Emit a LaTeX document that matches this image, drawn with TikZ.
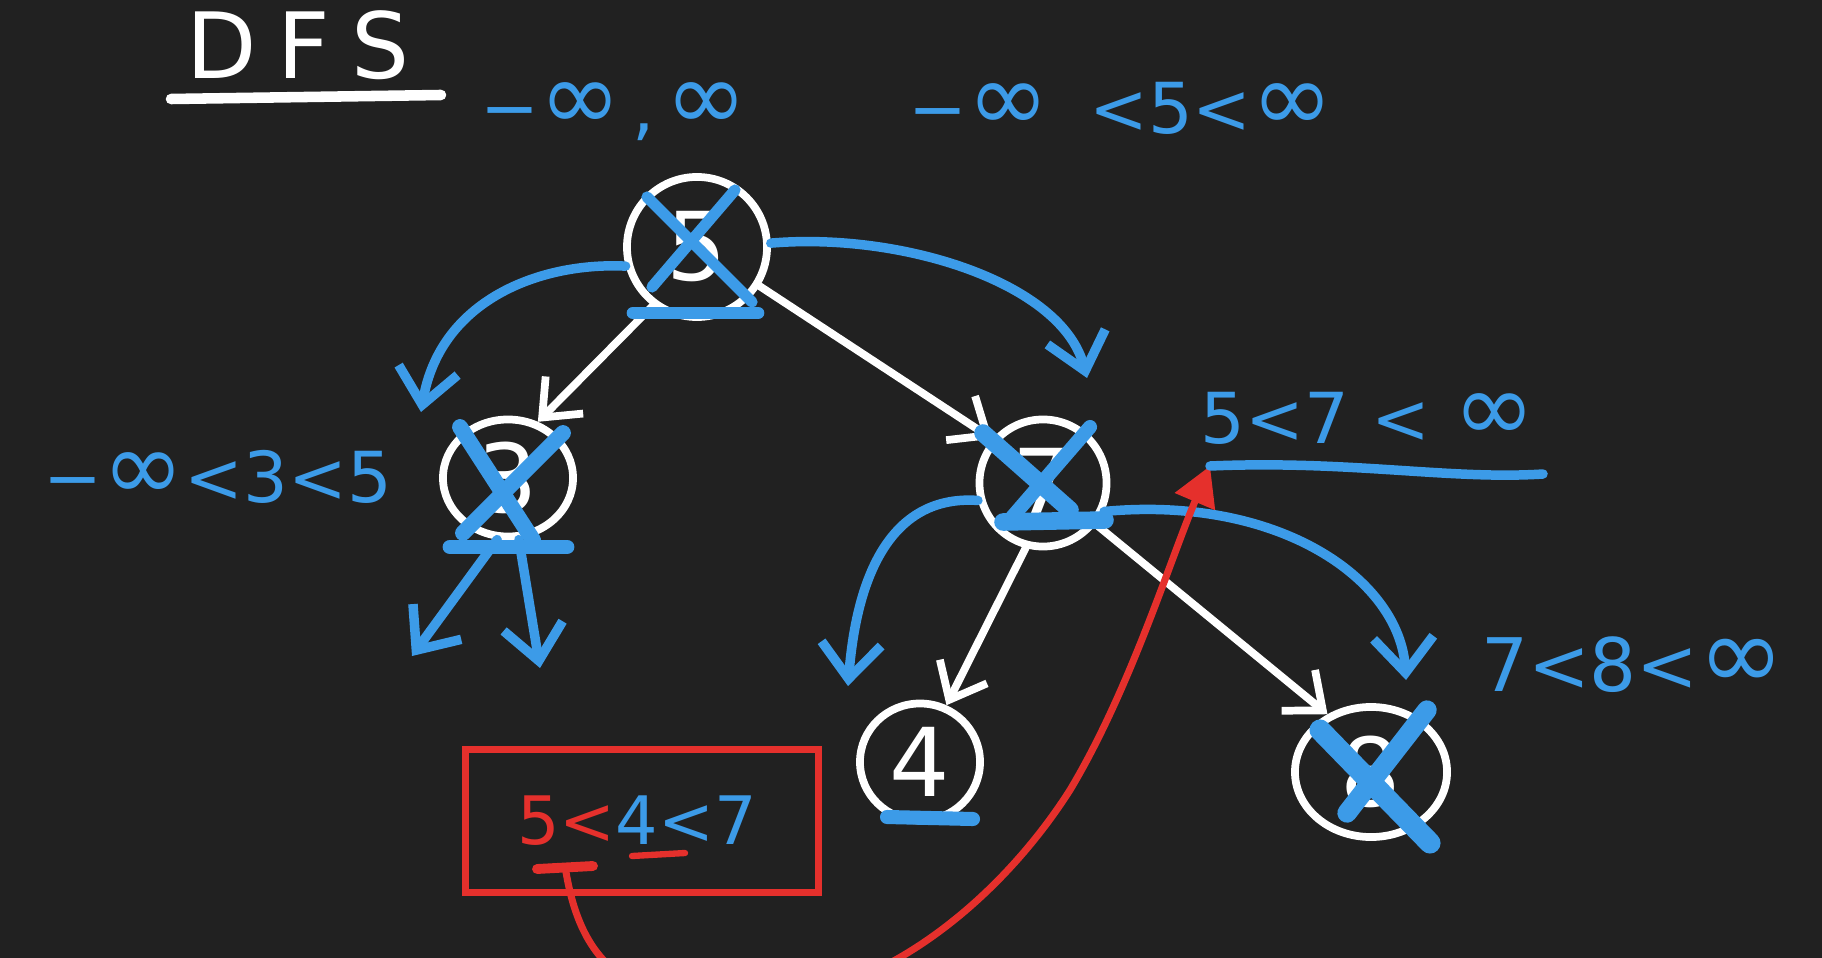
\documentclass[tikz,border=0pt]{standalone}
\usepackage{fontspec}
\usepackage{graphicx}
\setmainfont{DejaVu Sans}
\usetikzlibrary{arrows.meta,shapes.geometric}
\definecolor{bgc}{HTML}{212121}
\definecolor{bl}{HTML}{3C9BE8}
\definecolor{rd}{HTML}{E5302C}
\newcommand\bigInf{\raisebox{0.05ex}{\scalebox{1.4}{∞}}}
\begin{document}
\begin{tikzpicture}[x=0.01cm,y=-0.01cm,
  wl/.style={white, line width=2.2pt, line cap=round, line join=round},
  wa/.style={wl, -{Straight Barb[length=9pt,width=15pt]}},
  bline/.style={bl, line width=2.7pt, line cap=round, line join=round},
  ba/.style={bline, -{Straight Barb[length=10pt,width=17pt]}},
  xs/.style={bl, line width=3.2pt, line cap=round},
  nd/.style={ellipse, draw=white, line width=2.2pt, text=white, inner sep=0pt,
     font=\fontsize{27}{30}\selectfont},
  lbl/.style={text=bl, inner sep=0pt, font=\fontsize{20}{24}\selectfont},
  ra/.style={rd, line width=2pt, line cap=round, -{Triangle[length=11pt,width=12pt]}}
]
\fill[bgc] (0,0) rectangle (1822,958);
\clip (0,0) rectangle (1822,958);

% title
\node[text=white, inner sep=0pt, font=\fontsize{26}{30}\selectfont] (dfs) at (298,45) {D\hspace{6pt}F\hspace{6pt}S};
\draw[white, line width=3pt, line cap=round] (171,99) -- (441,95);

% labels
\node[lbl] (t1) at (614,112) {−\bigInf\hspace{3pt},\hspace{3pt}\bigInf};
\node[lbl] (t2) at (1121,108) {−\bigInf\hspace{5pt} <5<\bigInf};
\node[lbl] (t3) at (218,477) {−\bigInf<3<5};
\node[lbl] (t4) at (1368,418) {5<7 < \bigInf};
\node[lbl, font=\fontsize{21}{24}\selectfont] (t5) at (1633,665) {7<8<\bigInf};

% nodes
\node[nd, minimum width=1.40cm, minimum height=1.40cm] (root) at (697,247) {5};
\node[nd, minimum width=1.30cm, minimum height=1.17cm] (left) at (508,478) {3};
\node[nd, minimum width=1.27cm, minimum height=1.27cm] (right) at (1043,483) {7};
\node[nd, minimum width=1.20cm, minimum height=1.17cm] (n4) at (920,762) {4};
\node[nd, minimum width=1.52cm, minimum height=1.30cm] (n8) at (1371,772) {8};

% white tree edges
\draw[wa] (root.-127) -- (left.62);
\draw[wa] (root.-32) -- (right.139);
\draw[wa] (right.-105) -- (n4.65);
\draw[wa] (right.-38) -- (n8.127);

% crosses
\draw[xs] (647,197) -- (752,302);
\draw[xs] (735,190) -- (652,287);
\draw[bl, line width=3.6pt, line cap=round] (633,313) -- (758,313);

\draw[xs, line width=4.5pt] (460,427) -- (533,540);
\draw[xs, line width=4.5pt] (563,433) -- (463,533);
\draw[bl, line width=4.2pt, line cap=round] (450,547) -- (567,547);

\draw[xs, line width=5pt] (983,433) -- (1070,510);
\draw[xs, line width=4pt] (1090,427) -- (1007,523);
\draw[bl, line width=5pt, line cap=round] (1003,522) -- (1105,520);

\draw[xs, line width=6pt] (1320,730) -- (1430,843);
\draw[xs, line width=5.5pt] (1427,710) -- (1347,813);

\draw[bl, line width=4pt, line cap=round] (887,817) -- (973,819);

% blue traversal arrows
\coordinate (la) at (421,412);
\coordinate (rr) at (1087,378);
\coordinate (ld1) at (412,656);
\coordinate (ld2) at (540,668);
\coordinate (rl) at (848,686);
\coordinate (rr2) at (1406,680);
\draw[ba] (root.195) .. controls (540,262) and (440,300) .. (la);
\draw[ba] (root.3) .. controls (900,232) and (1062,282) .. (rr);
\draw[ba] (left.-100) -- (ld1);
\draw[ba] (left.-80) -- (ld2);
\draw[ba] (right.195) .. controls (900,495) and (858,560) .. (rl);
\draw[ba] (right.-25) .. controls (1280,495) and (1400,580) .. (rr2);

% red box
\node[draw=rd, line width=2pt, minimum width=3.53cm, minimum height=1.43cm] (box) at (642,821) {};
\node[inner sep=0pt, font=\fontsize{19}{22}\selectfont] (eq) at (637,821) {\textcolor{rd}{5<}\textcolor{bl}{4<7}};
\draw[rd, line width=2.8pt, line cap=round] (537,869) -- (593,866);
\draw[rd, line width=1.8pt, line cap=round] (632,856) -- (685,853);

% red arrow and blue underline
\coordinate (rs) at (566,872);
\coordinate (rtip) at (1210,466);
\coordinate (ue) at (1543,474);
\draw[ra] (rs) .. controls (585,985) and (650,1005) .. (760,1000)
  .. controls (880,998) and (1000,900) .. (1070,790)
  .. controls (1130,690) and (1170,560) .. (rtip);
\draw[bline] (rtip) .. controls (1350,460) and (1450,480) .. (ue);
\end{tikzpicture}
\end{document}
